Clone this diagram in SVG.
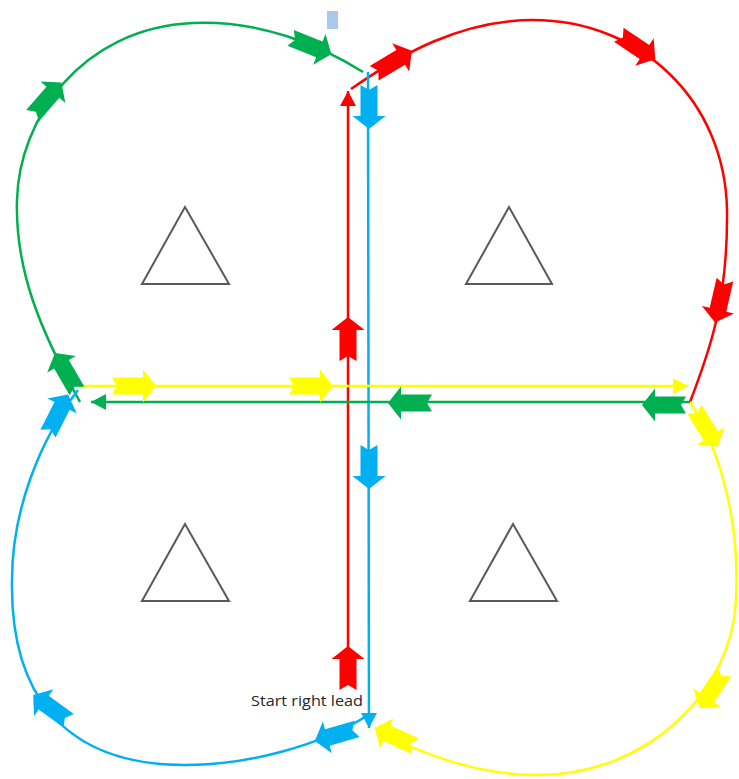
<svg xmlns="http://www.w3.org/2000/svg" width="739" height="779" viewBox="0 0 739 779">
<style>
.ln{fill:none;stroke-width:2.5}
.g{stroke:#00b050}.r{stroke:#ff0000}.y{stroke:#ffff00}.b{stroke:#00b0f0}
.fg{fill:#00b050}.fr{fill:#ff0000}.fy{fill:#ffff00}.fb{fill:#00b0f0}
.tri{fill:#fff;stroke:#595959;stroke-width:2}
.lbl{font-family:"Open Sans","Noto Sans",sans-serif;font-size:14px;fill:#262626}
</style>
<defs>
<path id="ba" d="M-22,-8.5 L9,-8.5 L9,-16.5 L22,0 L9,16.5 L9,8.5 L-22,8.5 L-17,0 Z"/>
<marker id="mr" markerUnits="userSpaceOnUse" markerWidth="18" markerHeight="18" refX="15" refY="8" orient="auto"><path d="M0,0 L15,8 L0,16 Z" fill="#ff0000"/></marker>
<marker id="mb" markerUnits="userSpaceOnUse" markerWidth="18" markerHeight="18" refX="15" refY="8" orient="auto"><path d="M0,0 L15,8 L0,16 Z" fill="#00b0f0"/></marker>
<marker id="my" markerUnits="userSpaceOnUse" markerWidth="18" markerHeight="18" refX="15" refY="8" orient="auto"><path d="M0,0 L15,8 L0,16 Z" fill="#ffff00"/></marker>
<marker id="mg" markerUnits="userSpaceOnUse" markerWidth="18" markerHeight="18" refX="15" refY="8" orient="auto"><path d="M0,0 L15,8 L0,16 Z" fill="#00b050"/></marker>
</defs>
<rect width="739" height="779" fill="#fff"/>
<rect id="marker-top" x="327" y="11" width="11" height="18" fill="#a9c8ee"/>
<g id="triangles">
<g id="tri-tl"><polygon class="tri" points="185,207 142,284 229,284"/></g>
<g id="tri-tr"><polygon class="tri" points="509,207 466,284 552,284"/></g>
<g id="tri-bl"><polygon class="tri" points="185,524 142,601 229,601"/></g>
<g id="tri-br"><polygon class="tri" points="513,524 470,601 557,601"/></g>
</g>
<g id="connectors">
<path id="green-curve" class="ln g" d="M80,402 C40,330 15,270 17,200 C19,120 80,28 193,23 C260,20 320,45 363,72"/>
<path id="red-curve" class="ln r" d="M351,89 C400,55 460,20 533,20 C640,20 725,100 727,210 C728,300 710,350 690,402"/>
<path id="yellow-curve" class="ln y" d="M690,402 C720,450 740,520 736,600 C732,690 650,775 537,775 C480,775 420,755 375,728"/>
<path id="blue-curve" class="ln b" d="M365,717 C320,745 250,765 185,765 C60,765 10,690 12,580 C12,510 40,440 78,390"/>
<line id="red-vertical" class="ln r" x1="348" y1="665" x2="348" y2="91" marker-end="url(#mr)"/>
<line id="blue-vertical" class="ln b" x1="368" y1="72" x2="369" y2="728" marker-end="url(#mb)"/>
<line id="yellow-horizontal" class="ln y" x1="78" y1="386" x2="688" y2="386" marker-end="url(#my)"/>
<line id="green-horizontal" class="ln g" x1="690" y1="402" x2="91" y2="402" marker-end="url(#mg)"/>
<g id="flow-arrows">
<use href="#ba" class="fg" transform="translate(66,372) rotate(-120)"/>
<use href="#ba" class="fg" transform="translate(47,99) rotate(-49)"/>
<use href="#ba" class="fg" transform="translate(311,46) rotate(22)"/>
<use href="#ba" class="fr" transform="translate(393,62) rotate(-31)"/>
<use href="#ba" class="fr" transform="translate(637,47) rotate(34)"/>
<use href="#ba" class="fr" transform="translate(720,301) rotate(103)"/>
<use href="#ba" class="fy" transform="translate(706,428) rotate(58)"/>
<use href="#ba" class="fy" transform="translate(712,690) rotate(124)"/>
<use href="#ba" class="fy" transform="translate(395,737) rotate(-156)"/>
<use href="#ba" class="fb" transform="translate(336,735) rotate(164)"/>
<use href="#ba" class="fb" transform="translate(51,708) rotate(-144)"/>
<use href="#ba" class="fb" transform="translate(58,414) rotate(-63)"/>
<use href="#ba" class="fr" transform="translate(348,339) rotate(-90)"/>
<use href="#ba" class="fr" transform="translate(348,668) rotate(-90)"/>
<use href="#ba" class="fb" transform="translate(369,107) rotate(90)"/>
<use href="#ba" class="fb" transform="translate(369,467) rotate(90)"/>
<use href="#ba" class="fy" transform="translate(134,386)"/>
<use href="#ba" class="fy" transform="translate(311,386)"/>
<use href="#ba" class="fg" transform="translate(410,403) rotate(180)"/>
<use href="#ba" class="fg" transform="translate(664,405) rotate(180)"/>
</g>
</g>
<g id="label"><text class="lbl" x="251" y="706" textLength="112" lengthAdjust="spacingAndGlyphs">Start right lead</text></g>
</svg>
